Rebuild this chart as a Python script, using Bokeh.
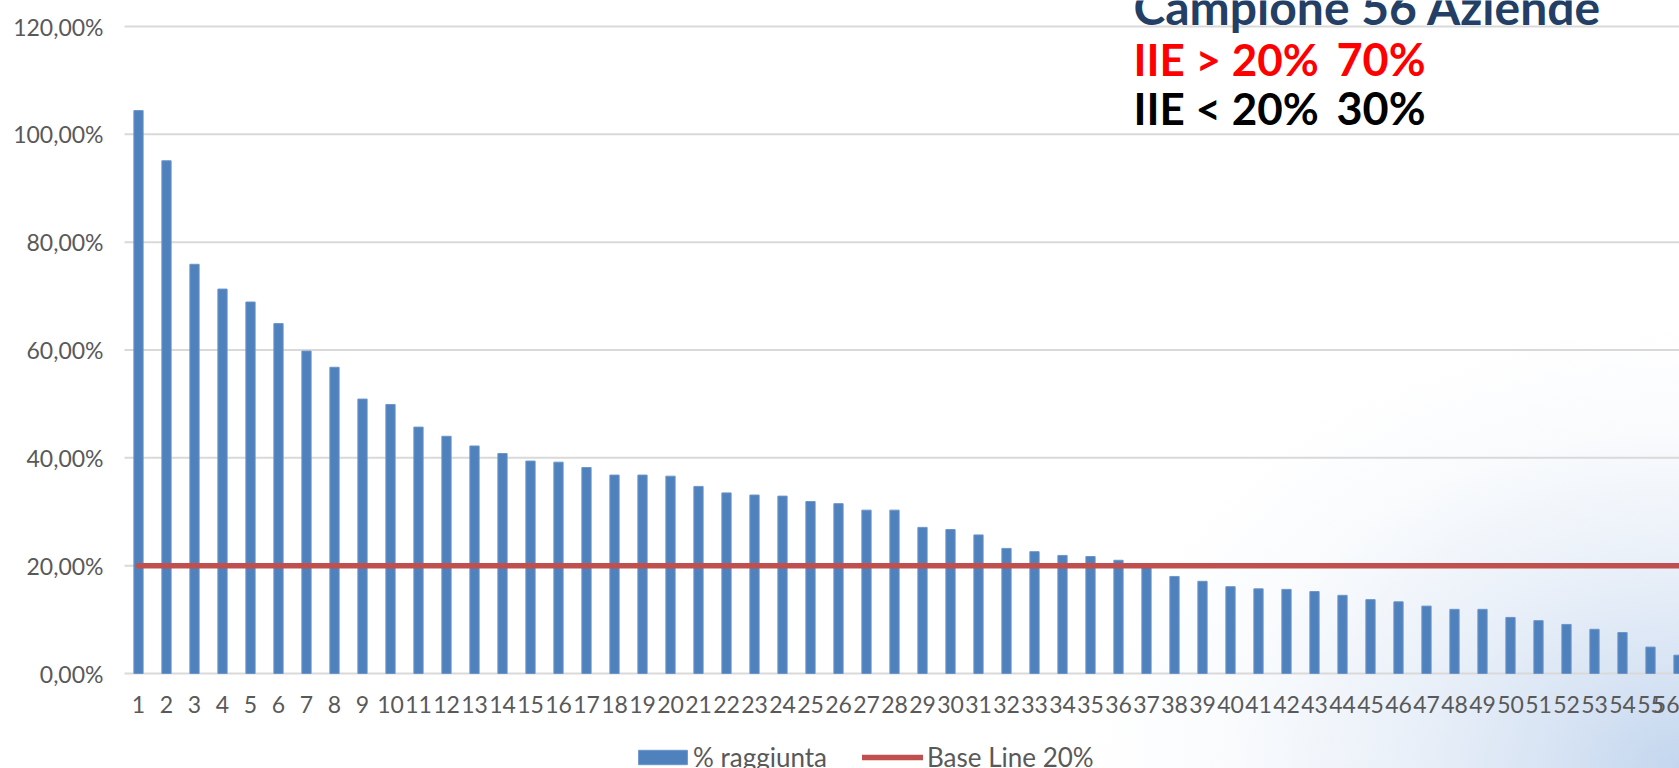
from bokeh.plotting import figure
from bokeh.models import (Range1d, LinearAxis, FixedTicker, Label, Legend, LegendItem)
from bokeh.embed import file_html
from bokeh.resources import INLINE

# ---------------- data ----------------
categories = list(range(1, 57))
pct_raggiunta = [104.4, 95.1, 75.9, 71.3, 68.9, 64.9, 59.8, 56.8, 50.9, 49.9,
                 45.7, 44.0, 42.2, 40.8, 39.4, 39.2, 38.2, 36.8, 36.8, 36.6,
                 34.7, 33.5, 33.1, 32.9, 31.9, 31.5, 30.3, 30.3, 27.1, 26.7,
                 25.7, 23.2, 22.6, 21.9, 21.7, 21.0, 19.8, 18.0, 17.1, 16.1,
                 15.7, 15.6, 15.2, 14.5, 13.7, 13.3, 12.5, 11.9, 11.9, 10.4,
                 9.8, 9.1, 8.2, 7.6, 4.9, 3.4]
base_line = [20, 20, 20, 20, 20, 20, 20, 20, 20, 20,
             20, 20, 20, 20, 20, 20, 20, 20, 20, 20,
             20, 20, 20, 20, 20, 20, 20, 20, 20, 20,
             20, 20, 20, 20, 20, 20, 20, 20, 20, 20,
             20, 20, 20, 20, 20, 20, 20, 20, 20, 20,
             20, 20, 20, 20, 20, 20]
y_ticks = [0, 20, 40, 60, 80, 100, 120]
y_tick_labels = ["0,00%", "20,00%", "40,00%", "60,00%", "80,00%", "100,00%", "120,00%"]
series_names = ["% raggiunta", "Base Line 20%"]

# ---------------- layout ----------------
W, H = 1679, 768
PX_CAT = 28.0             # pixels per category
FIRST_X = 138.0           # pixel x of category 1 centre
PX_PCT = 647.0 / 120.0    # pixels per percent
TOP_GRID = 26.0           # pixel y of the 120% line
x_start = 1 - FIRST_X / PX_CAT
x_end = x_start + W / PX_CAT
y_end = 120 + TOP_GRID / PX_PCT
y_start = y_end - H / PX_PCT
axis_x = 0.5

p = figure(width=W, height=H, output_backend="svg", toolbar_location=None,
           x_range=Range1d(x_start, x_end), y_range=Range1d(y_start, y_end),
           x_axis_location=None, y_axis_location=None,
           min_border=0, min_border_left=0, min_border_right=0,
           min_border_top=0, min_border_bottom=0,
           outline_line_color=None,
           background_fill_color=None, border_fill_color=None)
p.xgrid.visible = False
p.ygrid.visible = False
p.styles = {"background": "radial-gradient(ellipse 600px 450px at 100% 100%, "
                          "#c3d6ee 0%, #d8e4f4 22%, #ebf1f9 48%, "
                          "#f9fbfd 75%, #ffffff 100%)"}

# grid lines
p.segment(x0=axis_x, x1=x_end, y0=y_ticks, y1=y_ticks,
          line_color="#D9D9D9", line_width=2)

bars = p.vbar(x=categories, top=pct_raggiunta, bottom=0, width=0.33,
              fill_color="#4F81BD", line_color="#6C95C9", line_width=1)
line = p.line(categories, base_line, line_color="#C0504D", line_width=5.5,
              line_cap="round")

font = "Lato"
yaxis = LinearAxis(fixed_location=axis_x, ticker=FixedTicker(ticks=y_ticks),
                   major_label_overrides=dict(zip(y_ticks, y_tick_labels)),
                   axis_line_color=None, major_tick_line_color=None,
                   minor_tick_line_color=None, major_tick_out=0,
                   major_label_standoff=21, major_label_text_font=font,
                   major_label_text_font_size="23px",
                   major_label_text_color="#595959")
p.add_layout(yaxis, "left")

xaxis = LinearAxis(fixed_location=0, ticker=FixedTicker(ticks=categories),
                   axis_line_color=None, major_tick_line_color=None,
                   minor_tick_line_color=None, major_tick_out=0,
                   major_label_standoff=22, major_label_text_font=font,
                   major_label_text_font_size="23px",
                   major_label_text_color="#595959")
p.add_layout(xaxis, "below")

common = dict(orientation="horizontal", border_line_color=None,
              background_fill_alpha=0, padding=0, margin=0,
              glyph_width=61, glyph_height=18,
              label_text_font=font, label_text_font_size="26px",
              label_text_color="#595959")
leg1 = Legend(items=[LegendItem(label=series_names[0], renderers=[bars])],
              location=(632, -5), label_standoff=0, **common)
leg2 = Legend(items=[LegendItem(label=series_names[1], renderers=[line])],
              location=(862, -5), label_standoff=4, **common)
p.add_layout(leg1)
p.add_layout(leg2)

tx = 1133
p.add_layout(Label(x=tx, y=H - 6, x_units="screen", y_units="screen",
                   text="Campione 56 Aziende", text_font=font,
                   text_font_style="bold", text_font_size="48px",
                   text_color="#243F66", text_baseline="alphabetic"))
for txt, txt2, yy, col in [("IIE > 20%", "70%", 58, "#FF0000"),
                           ("IIE < 20%", "30%", 107, "#000000")]:
    p.add_layout(Label(x=tx, y=H - yy, x_units="screen", y_units="screen",
                       text=txt, text_font=font, text_font_style="bold",
                       text_font_size="44px", text_color=col,
                       text_baseline="alphabetic"))
    p.add_layout(Label(x=1336, y=H - yy, x_units="screen", y_units="screen",
                       text=txt2, text_font=font, text_font_style="bold",
                       text_font_size="45px", text_color=col,
                       text_baseline="alphabetic"))

open("out.html", "w").write(file_html(p, INLINE))
